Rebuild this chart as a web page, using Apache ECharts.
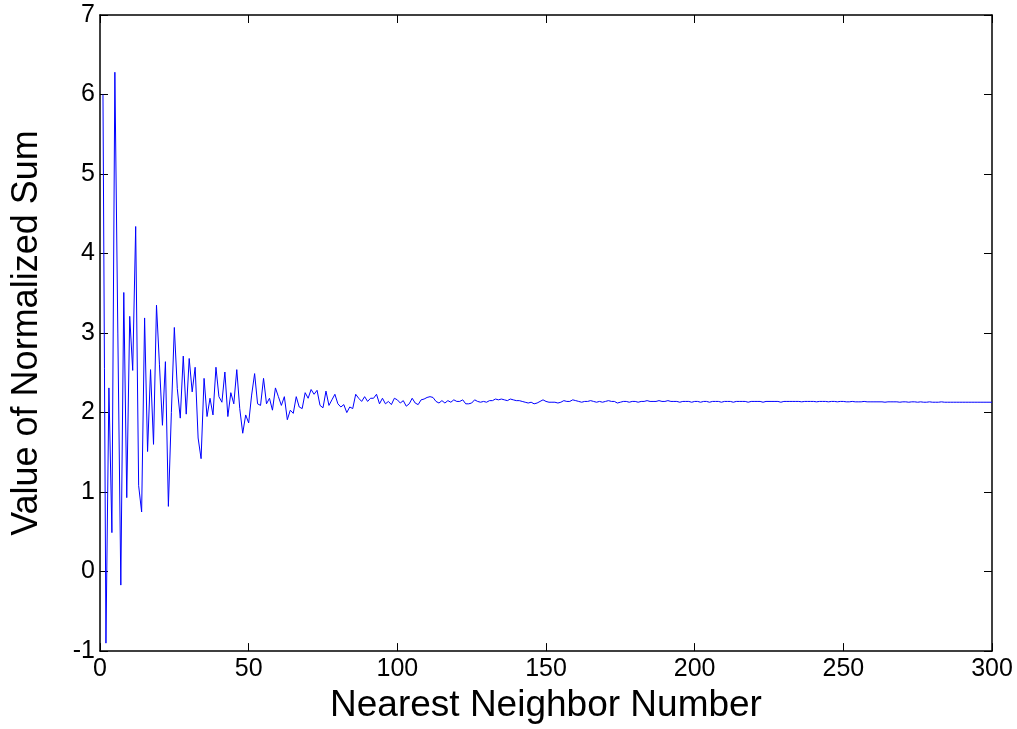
<!DOCTYPE html>
<html>
<head>
<meta charset="utf-8">
<script src="https://cdn.jsdelivr.net/npm/echarts@6/dist/echarts.min.js"></script>
<style>
html,body{margin:0;padding:0;background:#fff;}
#chart{width:1017px;height:729px;}
</style>
</head>
<body>
<div id="chart"></div>
<script>
// Nearest neighbor numbers start at 1
const xTicks = [0, 50, 100, 150, 200, 250, 300];
const yTicks = [-1, 0, 1, 2, 3, 4, 5, 6, 7];
const valuesA = [ // n = 1..30
  6.00, -0.90, 2.31, 0.49, 6.28, 3.00, -0.17, 3.51, 0.93, 3.21,
  2.53, 4.34, 1.08, 0.75, 3.19, 1.51, 2.54, 1.60, 3.35, 2.60,
  1.84, 2.64, 0.82, 2.00, 3.07, 2.30, 1.93, 2.71, 1.98, 2.68
];
const valuesB = [ // n = 31..67
  2.26, 2.57, 1.68, 1.42, 2.43, 1.95, 2.18, 1.97, 2.57, 2.20,
  2.13, 2.51, 1.95, 2.25, 2.11, 2.54, 2.05, 1.74, 1.97, 1.87,
  2.22, 2.49, 2.11, 2.09, 2.43, 2.11, 2.18, 2.03, 2.31, 2.20,
  2.09, 2.20, 1.91, 2.03, 1.99, 2.20, 2.07
];
const valuesC = [ // n = 68..131
  2.05, 2.25, 2.18, 2.29, 2.23, 2.28, 2.09, 2.06, 2.27, 2.09,
  2.16, 2.23, 2.11, 2.07, 2.10, 2.00, 2.07, 2.05, 2.23, 2.18,
  2.14, 2.20, 2.14, 2.18, 2.18, 2.23, 2.11, 2.18, 2.11, 2.14,
  2.10, 2.18, 2.16, 2.12, 2.15, 2.08, 2.11, 2.18, 2.12, 2.10,
  2.16, 2.17, 2.19, 2.20, 2.19, 2.14, 2.12, 2.15, 2.12, 2.15,
  2.13, 2.16, 2.14, 2.14, 2.16, 2.11, 2.11, 2.12, 2.16, 2.14,
  2.13, 2.14, 2.13, 2.15
];
const valuesD = [ // n = 132..300
  2.15, 2.17, 2.16, 2.17, 2.16, 2.15, 2.17, 2.16, 2.15,
  2.15, 2.14, 2.13, 2.12, 2.13, 2.11, 2.12, 2.14, 2.16, 2.14,
  2.13, 2.13, 2.13, 2.12, 2.13, 2.15, 2.14, 2.14, 2.16, 2.15,
  2.14, 2.13, 2.14, 2.14, 2.15, 2.14, 2.13, 2.14, 2.13, 2.14,
  2.15, 2.14, 2.14, 2.12, 2.13, 2.14, 2.14, 2.13, 2.14, 2.14,
  2.13, 2.14, 2.14, 2.15, 2.14, 2.14, 2.14, 2.15, 2.14, 2.14,
  2.15, 2.14, 2.14, 2.14, 2.13, 2.14, 2.14, 2.14, 2.13, 2.14,
  2.14, 2.13, 2.14, 2.14, 2.13, 2.14, 2.14, 2.14, 2.13, 2.14,
  2.14, 2.14, 2.13, 2.14, 2.14, 2.14, 2.14, 2.13, 2.14, 2.14,
  2.14, 2.14, 2.13, 2.14, 2.14, 2.14, 2.14, 2.14, 2.13, 2.14,
  2.14, 2.14, 2.14, 2.14, 2.14, 2.135, 2.14, 2.14, 2.14, 2.14,
  2.135, 2.14, 2.14, 2.14, 2.135, 2.14, 2.14, 2.135, 2.14, 2.14,
  2.135, 2.135, 2.14, 2.135, 2.135, 2.135, 2.14, 2.135, 2.135, 2.135,
  2.135, 2.135, 2.135, 2.13, 2.135, 2.135, 2.135, 2.135, 2.13, 2.135,
  2.135, 2.13, 2.135, 2.135, 2.13, 2.135, 2.13, 2.13, 2.135, 2.13,
  2.13, 2.13, 2.135, 2.13, 2.13, 2.13, 2.13, 2.13, 2.13, 2.13,
  2.13, 2.13, 2.13, 2.13, 2.13, 2.13, 2.13, 2.13, 2.13, 2.13
];
const values = valuesA.concat(valuesB, valuesC, valuesD);
const seriesData = values.map((v, i) => [i + 1, v]);

const chart = echarts.init(document.getElementById('chart'), null, {renderer: 'canvas'});
const font = 'Liberation Sans, Arial, Helvetica, sans-serif';
const tickFont = 25;
const nameFont = 37;
const axisCommon = {
  axisLine: {show: true, onZero: false, lineStyle: {color: '#000', width: 1.5}},
  axisTick: {show: true, inside: true, length: 8, lineStyle: {color: '#000', width: 1}},
  splitLine: {show: false}
};
chart.setOption({
  animation: false,
  backgroundColor: '#fff',
  grid: {left: 100, right: 25, top: 15, bottom: 70, containLabel: false},
  xAxis: [
    Object.assign({
      type: 'value', min: xTicks[0], max: xTicks[xTicks.length - 1], interval: 50,
      position: 'bottom',
      name: 'Nearest Neighbor Number', nameLocation: 'middle', nameGap: 33,
      nameTextStyle: {color: '#000', fontSize: nameFont, fontFamily: font},
      axisLabel: {color: '#000', fontSize: tickFont, fontFamily: font, margin: 6}
    }, axisCommon),
    Object.assign({
      type: 'value', min: xTicks[0], max: xTicks[xTicks.length - 1], interval: 50,
      position: 'top', axisLabel: {show: false}
    }, axisCommon)
  ],
  yAxis: [
    Object.assign({
      type: 'value', min: yTicks[0], max: yTicks[yTicks.length - 1], interval: 1,
      position: 'left',
      name: 'Value of Normalized Sum', nameLocation: 'middle', nameGap: 55,
      nameTextStyle: {color: '#000', fontSize: 36, fontFamily: font},
      axisLabel: {color: '#000', fontSize: tickFont, fontFamily: font, margin: 5}
    }, axisCommon),
    Object.assign({
      type: 'value', min: yTicks[0], max: yTicks[yTicks.length - 1], interval: 1,
      position: 'right', axisLabel: {show: false}
    }, axisCommon)
  ],
  series: [{
    type: 'line',
    data: seriesData,
    xAxisIndex: 0, yAxisIndex: 0,
    showSymbol: false,
    symbol: 'none',
    lineStyle: {color: '#0000ff', width: 1},
    itemStyle: {color: '#0000ff'}
  }]
});
</script>
</body>
</html>
